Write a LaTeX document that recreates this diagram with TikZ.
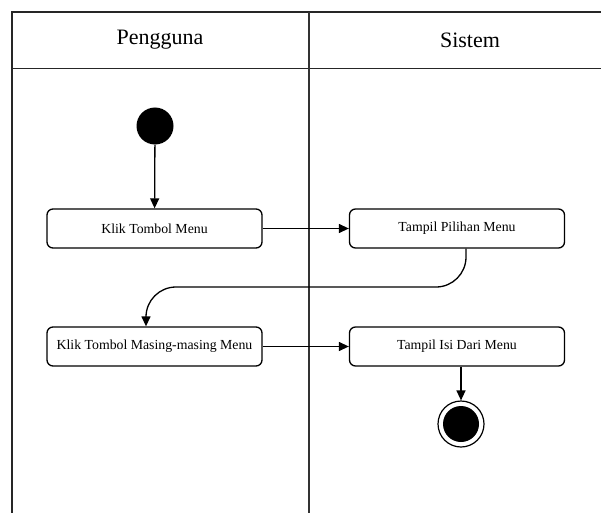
\documentclass[tikz,border=0pt]{standalone}
\usepackage{fontspec}
\setmainfont{Liberation Serif}
\usetikzlibrary{arrows.meta}
\begin{document}
\begin{tikzpicture}[x=1pt,y=-1pt,
  lane/.style={line width=1.4pt, draw=black!85},
  act/.style={draw, line width=1.3pt, rounded corners=6pt, minimum width=215pt, minimum height=39pt, font=\fontsize{13.8}{16}\selectfont, inner sep=0pt},
  flow/.style={line width=1.3pt, -{Triangle[length=10pt,width=9pt]}},
  hdr/.style={font=\fontsize{22}{25}\selectfont}]
\useasboundingbox (0,0) rectangle (601,513);
% swimlanes
\draw[lane] (601,12) -- (12,12) -- (12,513);
\draw[lane] (12,68.5) -- (601,68.5);
\draw[line width=1.9pt, draw=black!80] (309,12) -- (309,513);
\node[hdr] (h1) at (160,40) {Pengguna};
\node[hdr] (h2) at (470,40) {Sistem};
% nodes
\node[circle, fill=black, minimum size=37pt, inner sep=0pt] (start) at (155,126) {};
\node[act] (a1) at (154.5,228.5) {Klik Tombol Menu};
\node[act] (a2) at (457,228.5) {Tampil Pilihan Menu};
\node[act] (a3) at (154.5,346.5) {Klik Tombol Masing-masing Menu};
\node[act] (a4) at (457,346.5) {Tampil Isi Dari Menu};
\node[circle, draw, line width=1.2pt, minimum size=46pt, inner sep=0pt] (end) at (461,424) {};
\node[circle, fill=black, minimum size=36pt, inner sep=0pt] (endin) at (end.center) {};
% connectors
\draw[flow] (start) -- (a1);
\draw[flow] (a1) -- (a2);
\draw[flow, rounded corners=30pt] (a2.south -| 466,0) -- (466,287) -- (146,287) -- (a3.north -| 146,0);
\draw[flow] (a3) -- (a4);
\draw[flow] (a4.south -| end.north) -- (end.north);
\end{tikzpicture}
\end{document}
